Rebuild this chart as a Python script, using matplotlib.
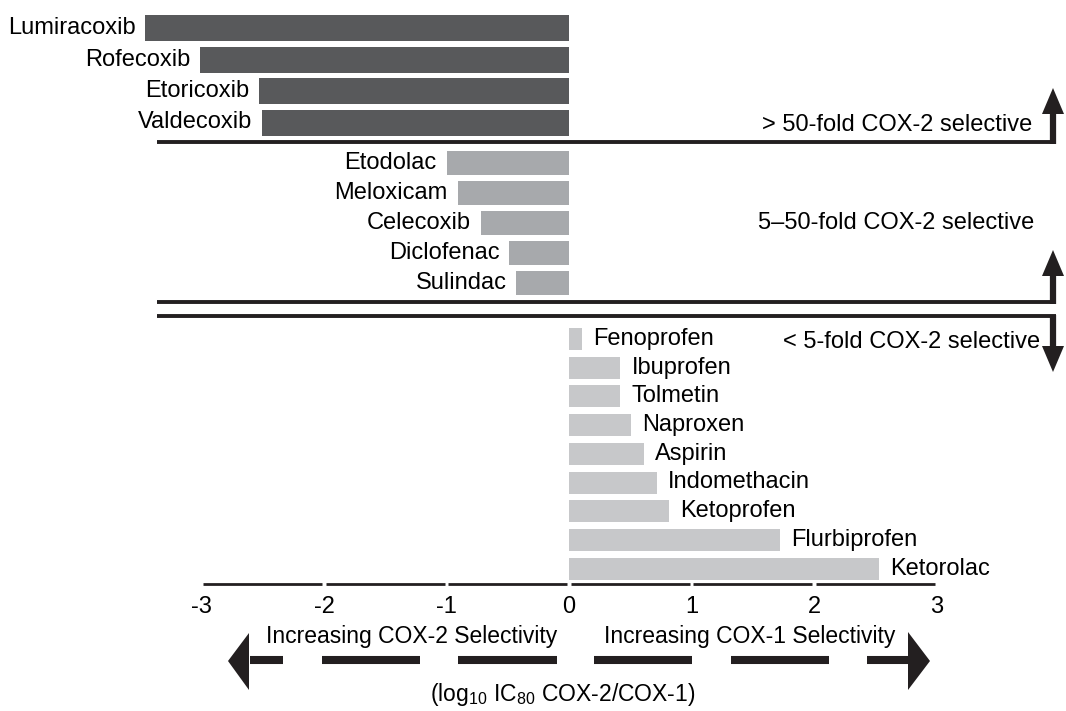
import matplotlib
matplotlib.use("Agg")
from matplotlib import pyplot as plt
from matplotlib.patches import Polygon

plt.rcParams["font.family"] = ["Liberation Sans", "DejaVu Sans"]
plt.rcParams["mathtext.default"] = "regular"

# log10 IC80 COX-2/COX-1 ratios
high_drugs = ["Lumiracoxib", "Rofecoxib", "Etoricoxib", "Valdecoxib"]
high_vals = [-3.46, -3.01, -2.53, -2.51]
mid_drugs = ["Etodolac", "Meloxicam", "Celecoxib", "Diclofenac", "Sulindac"]
mid_vals = [-1.00, -0.91, -0.72, -0.49, -0.43]
low_drugs = ["Fenoprofen", "Ibuprofen", "Tolmetin", "Naproxen", "Aspirin",
             "Indomethacin", "Ketoprofen", "Flurbiprofen", "Ketorolac"]
low_vals = [0.11, 0.42, 0.42, 0.51, 0.61, 0.72, 0.82, 1.72, 2.53]
group_labels = ["> 50-fold COX-2 selective", "5\u201350-fold COX-2 selective",
                "< 5-fold COX-2 selective"]
ticks = [-3, -2, -1, 0, 1, 2, 3]

# canvas in pixels, zero of the scale and pixels per log unit
W, H = 1066, 711
X0, PPU = 569, 122.5
FS = 17
INK = "#231f20"

fig = plt.figure(figsize=(W / 100, H / 100), dpi=100)
ax = fig.add_axes([0, 0, 1, 1])
ax.set_xlim(-X0 / PPU, (W - X0) / PPU)
ax.set_ylim(H, 0)
ax.axis("off")

# overlay in pixel coords for the arrows and brackets
deco = fig.add_axes([0, 0, 1, 1])
deco.set_xlim(0, W)
deco.set_ylim(H, 0)
deco.axis("off")
deco.patch.set_alpha(0)

groups = [
    (high_drugs, high_vals, "#58595b", 28, 31.5, 26),
    (mid_drugs, mid_vals, "#a7a9ac", 163, 30, 24),
    (low_drugs, low_vals, "#c7c8ca", 339, 28.7, 22),
]
for names, vals, color, y0, step, h in groups:
    ys = [y0 + i * step for i in range(len(vals))]
    ax.barh(ys, vals, height=h, color=color)
    for y, v, n in zip(ys, vals, names):
        if v < 0:
            ax.annotate(n, (v, y), xytext=(-7, 0), textcoords="offset points",
                        ha="right", va="center", fontsize=FS)
        else:
            ax.annotate(n, (v, y), xytext=(8, 0), textcoords="offset points",
                        ha="left", va="center", fontsize=FS)

# x axis: segments broken at each tick
gap = 0.013
for a, b in zip(ticks[:-1], ticks[1:]):
    ax.plot([a + gap, b - gap], [584, 584], color=INK, lw=2,
            solid_capstyle="butt")
for t in ticks:
    ax.text(t, 607, str(t), ha="center", va="center", fontsize=FS)


def vertical_arrow(x, y_from, y_to, head=26, half=11, stem=4.5):
    sign = 1 if y_to > y_from else -1
    base = y_to - sign * head
    deco.plot([x, x], [y_from, base], color=INK, lw=stem,
              solid_capstyle="butt")
    deco.add_patch(Polygon([(x - half, base), (x + half, base), (x, y_to)],
                           closed=True, color=INK, lw=0))


# group separators
for y in [142, 302, 316]:
    deco.plot([157, 1056], [y, y], color=INK, lw=2.8, solid_capstyle="butt")
vertical_arrow(1053, 143.5, 88)
vertical_arrow(1053, 303.5, 250)
vertical_arrow(1053, 314.5, 372)

deco.text(1032, 125, group_labels[0], ha="right", va="center", fontsize=FS)
deco.text(1034, 223, group_labels[1], ha="right", va="center", fontsize=FS)
deco.text(1040, 342, group_labels[2], ha="right", va="center", fontsize=FS)

# dashed direction arrows under the axis
for a, b in [(250, 283), (322, 420), (458, 557), (594, 692), (731, 829), (867, 908)]:
    deco.plot([a, b], [660, 660], color=INK, lw=5.8, solid_capstyle="butt")
deco.add_patch(Polygon([(228, 661), (249, 633), (249, 690)], closed=True,
                       color=INK, lw=0))
deco.add_patch(Polygon([(930, 661), (908, 632), (908, 690)], closed=True,
                       color=INK, lw=0))
deco.text(412, 637, "Increasing COX-2 Selectivity", ha="center", va="center",
          fontsize=16.5)
deco.text(750, 637, "Increasing COX-1 Selectivity", ha="center", va="center",
          fontsize=16.5)
deco.text(563, 694, r"(log$_{10}$ IC$_{80}$ COX-2/COX-1)", ha="center",
          va="center", fontsize=16.5)

fig.savefig("out.png", dpi=100)
